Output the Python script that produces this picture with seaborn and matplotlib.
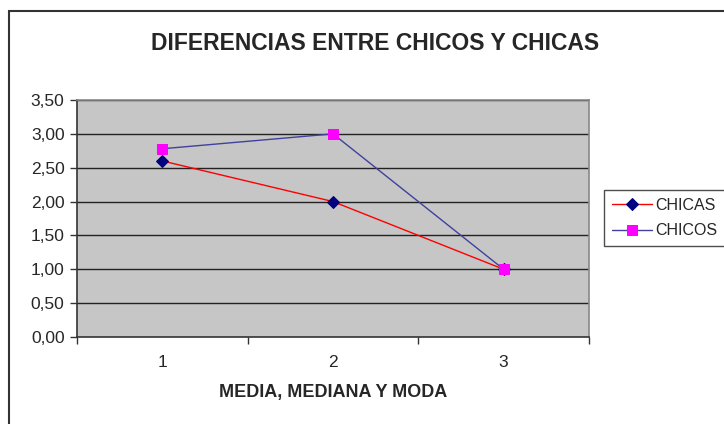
import numpy as np
import pandas as pd
import matplotlib
matplotlib.use("Agg")
import matplotlib.pyplot as plt
import seaborn as sns
from matplotlib.ticker import FuncFormatter, FixedLocator
from matplotlib.patches import Rectangle

# datos
posiciones = [1, 2, 3]
chicas = [2.60, 2.00, 1.00]
chicos = [2.78, 3.00, 1.00]
y_ticks = [0.0, 0.5, 1.0, 1.5, 2.0, 2.5, 3.0, 3.5]

sns.set_style("white")
plt.rcParams['font.family'] = ['Liberation Sans', 'DejaVu Sans']

fig = plt.figure(figsize=(7.24, 4.24), dpi=100)
ax = fig.add_axes([77/724, 1 - 337/424, (589 - 77)/724, (337 - 100)/424])
ax.set_facecolor("#c6c6c6")

# marco exterior
fig.patches.append(Rectangle((9/724, -0.05), 1.1, 1 - 11/424 + 0.05,
                             transform=fig.transFigure, fill=False,
                             edgecolor="#333333", linewidth=1.5))

for y in y_ticks[1:]:
    ax.axhline(y, color="#222222", linewidth=1.0, zorder=1)

sns.lineplot(x=posiciones, y=chicas, ax=ax, color="red", linewidth=1.0,
             marker="D", markersize=6, markerfacecolor="#000080",
             markeredgecolor="#000080", label="CHICAS", zorder=3)
sns.lineplot(x=posiciones, y=chicos, ax=ax, color="#4040a0", linewidth=1.0,
             marker="s", markersize=7, markerfacecolor="#ff00ff",
             markeredgecolor="#ff00ff", label="CHICOS", zorder=4)

ax.set_xlim(0.5, 3.5)
ax.set_ylim(0, 3.5)
ax.set_yticks(y_ticks)
ax.yaxis.set_major_formatter(FuncFormatter(lambda v, p: f"{v:.2f}".replace(".", ",")))
ax.set_xticks(posiciones)
ax.set_xticklabels([str(p) for p in posiciones])
ax.xaxis.set_minor_locator(FixedLocator([0.5, 1.5, 2.5, 3.5]))
ax.tick_params(axis="x", which="major", length=0, labelsize=12.5, pad=13)
ax.tick_params(axis="x", which="minor", length=5, width=1, color="#333333",
               direction="out", bottom=True)
ax.tick_params(axis="y", length=5, width=1, color="#333333", direction="out",
               left=True, labelsize=12.5, pad=4)

for s in ["left", "bottom"]:
    ax.spines[s].set_color("#333333")
    ax.spines[s].set_linewidth(1.2)
for s in ["top", "right"]:
    ax.spines[s].set_color("#888888")
    ax.spines[s].set_linewidth(1.2)

ax.set_xlabel("MEDIA, MEDIANA Y MODA", fontsize=13, fontweight="bold", labelpad=10)
ax.set_ylabel("")
fig.text(375/724, 1 - 43/424, "DIFERENCIAS ENTRE CHICOS Y CHICAS",
         ha="center", va="center", fontsize=16.5, fontweight="bold")

leg = ax.legend(loc="center left", bbox_to_anchor=(604/724, 1 - 218/424),
                bbox_transform=fig.transFigure, borderaxespad=0,
                frameon=True, fancybox=False,
                fontsize=11.5, handlelength=2.5, borderpad=0.5, labelspacing=0.65,
                handletextpad=0.2)
leg.get_frame().set_edgecolor("#222222")
leg.get_frame().set_linewidth(1.0)

fig.savefig("out.png", dpi=100)
